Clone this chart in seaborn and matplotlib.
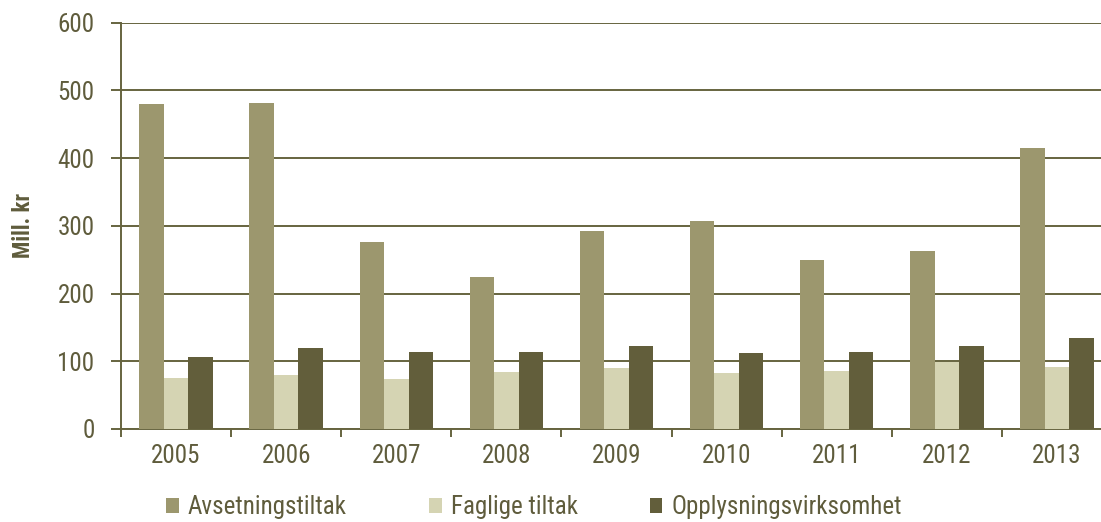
import matplotlib
matplotlib.use("Agg")
import matplotlib.pyplot as plt
import seaborn as sns
import pandas as pd

years = ["2005", "2006", "2007", "2008", "2009", "2010", "2011", "2012", "2013"]
series_names = ["Avsetningstiltak", "Faglige tiltak", "Opplysningsvirksomhet"]
avsetningstiltak = [480, 482, 276, 225, 292, 307, 249, 263, 415]
faglige_tiltak = [76, 80, 74, 84, 90, 82, 86, 99, 92]
opplysningsvirksomhet = [107, 120, 114, 114, 123, 112, 113, 123, 135]
y_ticks = [0, 100, 200, 300, 400, 500, 600]
y_label = "Mill. kr"

colors = ["#9c976e", "#d5d4b3", "#625e3b"]
text_color = "#5f5c3c"
grid_color = "#66643f"

rows = []
for name, vals in zip(series_names, [avsetningstiltak, faglige_tiltak, opplysningsvirksomhet]):
    for y, v in zip(years, vals):
        rows.append({"year": y, "series": name, "value": v})
df = pd.DataFrame(rows)

sns.set_theme(style="white")
plt.rcParams["font.family"] = ["Roboto Condensed", "Archivo Narrow", "DejaVu Sans"]

fig = plt.figure(figsize=(11.01, 5.22), dpi=100)
W, H = 1101, 522
left, right, top, bottom = 121, 1112, 22.7, 429
ax = fig.add_axes([left / W, 1 - bottom / H, (right - left) / W, (bottom - top) / H])

sns.barplot(data=df, x="year", y="value", hue="series", order=years,
            hue_order=series_names, palette=colors, width=0.667, gap=0,
            linewidth=0, saturation=1, ax=ax, zorder=3)

ax.set_ylim(0, 600)
ax.set_xlim(-0.5, len(years) - 0.5)
ax.set_yticks(y_ticks)
ax.set_yticklabels([str(t) for t in y_ticks], fontsize=18, color=text_color)
ax.yaxis.grid(True, color=grid_color, linewidth=1.4, zorder=0)
ax.set_axisbelow(True)

# major x ticks at category boundaries, labels at centers via minor ticks
ax.set_xticks([i - 0.5 for i in range(len(years) + 1)])
ax.set_xticklabels([""] * (len(years) + 1))
ax.set_xticks(range(len(years)), minor=True)
ax.set_xticklabels(years, minor=True, fontsize=18, color=text_color)
ax.tick_params(axis="x", which="major", direction="out", length=6, width=1.4, color=grid_color, bottom=True)
ax.tick_params(axis="x", which="minor", length=0, pad=11)
ax.tick_params(axis="y", direction="out", length=7, width=1.4, color=grid_color, pad=12, left=True)

for s in ["top", "right"]:
    ax.spines[s].set_visible(False)
for s in ["left", "bottom"]:
    ax.spines[s].set_color(grid_color)
    ax.spines[s].set_linewidth(1.4)

ax.set_xlabel("")
ax.set_ylabel("")
fig.text(23 / W, 1 - 225.5 / H, y_label, rotation=90, ha="center", va="center",
         fontsize=16.5, fontweight="bold", color=text_color)

handles, labels = ax.get_legend_handles_labels()
if ax.get_legend() is not None:
    ax.get_legend().remove()
xs = [166, 429, 650]
for h, l, x in zip(handles, labels, xs):
    fig.legend([h], [l], loc="center left", bbox_to_anchor=(x / W, 1 - 507 / H),
               frameon=False, fontsize=18, labelcolor=text_color,
               handlelength=0.5, handleheight=0.55, handletextpad=0.38,
               borderpad=0, borderaxespad=0)

fig.savefig("out.png", dpi=100)
